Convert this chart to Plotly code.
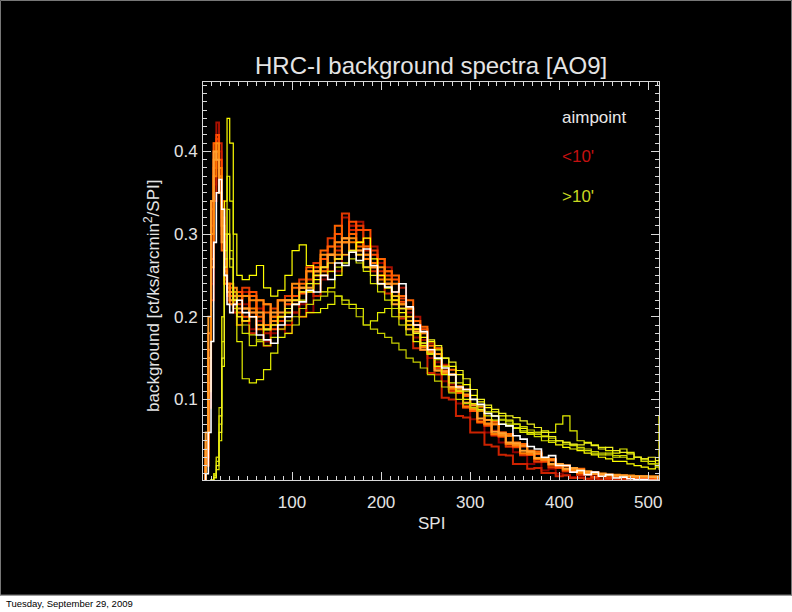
import plotly.graph_objects as go

# ---------------- data ----------------
spi = [0, 3, 6, 9, 12, 15, 18, 21, 24, 27, 30, 34, 38,
       44, 52, 60, 68, 76, 84, 92, 100, 108, 116,
       124, 132, 140, 148, 156, 164, 172, 180, 188, 196,
       204, 212, 220, 228, 236, 244, 252, 260, 268, 276,
       284, 292, 300, 308, 316, 324, 332, 340, 348, 356,
       364, 372, 380, 388, 396, 404, 412, 420, 428, 436,
       444, 452, 460, 468, 476, 484, 492, 500, 508, 512]

aimpoint = [0, 0.01, 0.06, 0.17, 0.29, 0.35, 0.366, 0.33, 0.25, 0.215, 0.205, 0.215, 0.22,
            0.205, 0.2, 0.178, 0.172, 0.168, 0.19, 0.2, 0.215, 0.218, 0.232,
            0.23, 0.25, 0.245, 0.265, 0.262, 0.278, 0.268, 0.282, 0.262, 0.24,
            0.236, 0.23, 0.24, 0.212, 0.19, 0.182, 0.16, 0.15, 0.138, 0.13,
            0.115, 0.112, 0.1, 0.094, 0.083, 0.08, 0.07, 0.068, 0.056, 0.052,
            0.043, 0.04, 0.03, 0.032, 0.02, 0.02, 0.012, 0.014, 0.009, 0.012,
            0.007, 0.009, 0.005, 0.006, 0.004, 0.003, 0.003, 0.002, 0.002, 0.002]

inner_1 = [0, 0.02, 0.10, 0.24, 0.36, 0.42, 0.40, 0.31, 0.25, 0.22, 0.215, 0.21, 0.20,
           0.215, 0.185, 0.195, 0.17, 0.18, 0.195, 0.18, 0.205, 0.215, 0.205,
           0.24, 0.245, 0.265, 0.255, 0.29, 0.31, 0.28, 0.295, 0.26, 0.265,
           0.24, 0.23, 0.2, 0.205, 0.175, 0.172, 0.15, 0.145, 0.122, 0.118,
           0.095, 0.092, 0.076, 0.074, 0.06, 0.062, 0.048, 0.046, 0.036, 0.032,
           0.022, 0.024, 0.014, 0.016, 0.01, 0.009, 0.006, 0.006, 0.004, 0.005,
           0.003, 0.004, 0.002, 0.003, 0.002, 0.002, 0.002, 0.002, 0.002, 0.002]
inner_2 = [0, 0.03, 0.14, 0.30, 0.41, 0.435, 0.37, 0.29, 0.24, 0.23, 0.225, 0.23, 0.22,
           0.23, 0.205, 0.21, 0.18, 0.195, 0.185, 0.215, 0.205, 0.235, 0.23,
           0.26, 0.255, 0.285, 0.29, 0.32, 0.31, 0.315, 0.28, 0.285, 0.25,
           0.26, 0.23, 0.235, 0.2, 0.2, 0.165, 0.168, 0.14, 0.142, 0.112,
           0.115, 0.092, 0.094, 0.072, 0.075, 0.056, 0.06, 0.043, 0.046, 0.033,
           0.036, 0.025, 0.027, 0.018, 0.02, 0.013, 0.014, 0.009, 0.01, 0.007,
           0.008, 0.005, 0.006, 0.004, 0.005, 0.003, 0.004, 0.003, 0.003, 0.003]
inner_3 = [0, 0.02, 0.09, 0.22, 0.34, 0.40, 0.41, 0.34, 0.27, 0.235, 0.22, 0.205, 0.19,
           0.195, 0.18, 0.19, 0.165, 0.19, 0.2, 0.19, 0.22, 0.2, 0.23,
           0.225, 0.25, 0.255, 0.28, 0.275, 0.305, 0.29, 0.285, 0.255, 0.255,
           0.228, 0.225, 0.198, 0.195, 0.162, 0.16, 0.132, 0.13, 0.102, 0.1,
           0.08, 0.078, 0.06, 0.06, 0.045, 0.043, 0.033, 0.032, 0.022, 0.022,
           0.016, 0.017, 0.011, 0.011, 0.007, 0.008, 0.005, 0.005, 0.004, 0.004,
           0.003, 0.003, 0.003, 0.002, 0.002, 0.002, 0.002, 0.002, 0.002, 0.002]
inner_4 = [0, 0.04, 0.16, 0.31, 0.40, 0.415, 0.38, 0.30, 0.245, 0.225, 0.235, 0.225, 0.215,
           0.235, 0.2, 0.22, 0.19, 0.21, 0.195, 0.225, 0.225, 0.245, 0.245,
           0.265, 0.26, 0.295, 0.285, 0.325, 0.3, 0.31, 0.275, 0.28, 0.25,
           0.255, 0.225, 0.222, 0.195, 0.19, 0.165, 0.16, 0.138, 0.132, 0.11,
           0.108, 0.09, 0.086, 0.072, 0.07, 0.057, 0.055, 0.043, 0.042, 0.033,
           0.033, 0.025, 0.025, 0.018, 0.017, 0.013, 0.013, 0.009, 0.009, 0.006,
           0.007, 0.005, 0.006, 0.004, 0.005, 0.003, 0.004, 0.003, 0.003, 0.003]
inner_5 = [0, 0.03, 0.12, 0.27, 0.38, 0.42, 0.39, 0.32, 0.26, 0.24, 0.225, 0.215, 0.23,
           0.2, 0.23, 0.19, 0.215, 0.185, 0.22, 0.215, 0.225, 0.228, 0.255,
           0.255, 0.27, 0.275, 0.3, 0.295, 0.315, 0.305, 0.305, 0.275, 0.27,
           0.25, 0.245, 0.218, 0.21, 0.19, 0.185, 0.16, 0.155, 0.135, 0.13,
           0.108, 0.104, 0.086, 0.086, 0.068, 0.07, 0.055, 0.056, 0.043, 0.043,
           0.033, 0.034, 0.025, 0.026, 0.018, 0.019, 0.013, 0.014, 0.01, 0.01,
           0.007, 0.008, 0.006, 0.006, 0.005, 0.005, 0.005, 0.004, 0.004, 0.004]
inner_6 = [0, 0.05, 0.18, 0.33, 0.41, 0.40, 0.35, 0.28, 0.24, 0.235, 0.24, 0.23, 0.225,
           0.21, 0.225, 0.2, 0.205, 0.2, 0.22, 0.22, 0.235, 0.24, 0.26,
           0.26, 0.28, 0.285, 0.31, 0.295, 0.3, 0.285, 0.285, 0.265, 0.27,
           0.255, 0.25, 0.225, 0.22, 0.195, 0.188, 0.165, 0.162, 0.14, 0.136,
           0.116, 0.112, 0.093, 0.091, 0.075, 0.073, 0.06, 0.058, 0.048, 0.046,
           0.038, 0.037, 0.029, 0.028, 0.021, 0.02, 0.016, 0.016, 0.012, 0.012,
           0.01, 0.009, 0.008, 0.008, 0.007, 0.007, 0.006, 0.006, 0.006, 0.006]
inner_7 = [0, 0.02, 0.11, 0.26, 0.37, 0.40, 0.38, 0.33, 0.27, 0.23, 0.215, 0.22, 0.205,
           0.195, 0.21, 0.185, 0.19, 0.2, 0.2, 0.205, 0.215, 0.23, 0.23,
           0.25, 0.255, 0.275, 0.275, 0.29, 0.29, 0.29, 0.27, 0.265, 0.245,
           0.245, 0.22, 0.215, 0.19, 0.185, 0.163, 0.157, 0.135, 0.132, 0.113,
           0.11, 0.091, 0.089, 0.073, 0.07, 0.058, 0.056, 0.046, 0.044, 0.035,
           0.034, 0.028, 0.027, 0.021, 0.02, 0.015, 0.015, 0.011, 0.011, 0.01,
           0.009, 0.008, 0.008, 0.007, 0.007, 0.006, 0.006, 0.006, 0.005, 0.005]
inner_8 = [0, 0.04, 0.15, 0.30, 0.39, 0.41, 0.37, 0.31, 0.255, 0.24, 0.23, 0.235, 0.225,
           0.225, 0.22, 0.22, 0.215, 0.195, 0.22, 0.22, 0.24, 0.235, 0.255,
           0.255, 0.275, 0.275, 0.29, 0.29, 0.295, 0.275, 0.275, 0.26, 0.26,
           0.24, 0.24, 0.215, 0.21, 0.185, 0.18, 0.157, 0.155, 0.133, 0.13,
           0.11, 0.106, 0.088, 0.087, 0.071, 0.07, 0.057, 0.056, 0.045, 0.044,
           0.036, 0.035, 0.027, 0.027, 0.021, 0.02, 0.015, 0.015, 0.011, 0.011,
           0.01, 0.009, 0.009, 0.008, 0.008, 0.007, 0.007, 0.007, 0.007, 0.007]
inner_9 = [0, 0.06, 0.2, 0.34, 0.40, 0.39, 0.35, 0.29, 0.25, 0.23, 0.22, 0.225, 0.21,
           0.21, 0.205, 0.205, 0.185, 0.205, 0.205, 0.22, 0.22, 0.235, 0.235,
           0.255, 0.26, 0.275, 0.27, 0.295, 0.28, 0.28, 0.26, 0.26, 0.24,
           0.24, 0.215, 0.21, 0.185, 0.182, 0.16, 0.155, 0.135, 0.134, 0.115,
           0.113, 0.096, 0.093, 0.077, 0.075, 0.061, 0.059, 0.048, 0.047, 0.038,
           0.037, 0.029, 0.029, 0.022, 0.022, 0.016, 0.017, 0.013, 0.013, 0.01,
           0.01, 0.009, 0.008, 0.008, 0.007, 0.007, 0.007, 0.006, 0.006, 0.006]

outer_1 = [0, 0, 0, 0.003, 0.01, 0.03, 0.08, 0.2, 0.34, 0.44, 0.41, 0.3, 0.25,
           0.245, 0.25, 0.262, 0.235, 0.225, 0.232, 0.25, 0.28, 0.287, 0.262,
           0.245, 0.23, 0.235, 0.25, 0.265, 0.28, 0.29, 0.295, 0.27, 0.25,
           0.235, 0.22, 0.205, 0.2, 0.185, 0.175, 0.17, 0.16, 0.15, 0.14,
           0.13, 0.118, 0.105, 0.097, 0.09, 0.085, 0.08, 0.075, 0.07, 0.065,
           0.06, 0.058, 0.055, 0.05, 0.045, 0.042, 0.04, 0.038, 0.035, 0.033,
           0.03, 0.028, 0.025, 0.025, 0.022, 0.02, 0.018, 0.016, 0.02, 0.081]
outer_2 = [0, 0, 0, 0, 0.005, 0.015, 0.05, 0.14, 0.28, 0.37, 0.34, 0.22, 0.17,
           0.125, 0.12, 0.124, 0.136, 0.156, 0.175, 0.18, 0.19, 0.2, 0.205,
           0.205, 0.21, 0.215, 0.225, 0.22, 0.215, 0.21, 0.19, 0.195, 0.205,
           0.21, 0.2, 0.19, 0.178, 0.17, 0.165, 0.155, 0.14, 0.13, 0.12,
           0.11, 0.1, 0.095, 0.088, 0.08, 0.075, 0.07, 0.068, 0.065, 0.06,
           0.058, 0.06, 0.062, 0.06, 0.07, 0.08, 0.062, 0.05, 0.048, 0.045,
           0.042, 0.038, 0.035, 0.04, 0.036, 0.03, 0.028, 0.025, 0.022, 0.022]
outer_3 = [0, 0, 0, 0.002, 0.008, 0.025, 0.07, 0.17, 0.27, 0.3, 0.26, 0.21, 0.19,
           0.18, 0.165, 0.172, 0.184, 0.19, 0.2, 0.205, 0.215, 0.22, 0.23,
           0.24, 0.25, 0.255, 0.26, 0.265, 0.27, 0.265, 0.255, 0.24, 0.23,
           0.22, 0.21, 0.2, 0.19, 0.18, 0.168, 0.155, 0.148, 0.14, 0.13,
           0.12, 0.11, 0.1, 0.092, 0.085, 0.08, 0.075, 0.07, 0.066, 0.062,
           0.058, 0.055, 0.05, 0.048, 0.05, 0.046, 0.044, 0.04, 0.038, 0.035,
           0.033, 0.035, 0.03, 0.032, 0.028, 0.03, 0.025, 0.022, 0.018, 0.018]
outer_4 = [0, 0, 0, 0.003, 0.01, 0.03, 0.09, 0.2, 0.3, 0.33, 0.28, 0.23, 0.2,
           0.19, 0.178, 0.17, 0.165, 0.175, 0.185, 0.195, 0.2, 0.21, 0.215,
           0.22, 0.225, 0.23, 0.225, 0.215, 0.21, 0.2, 0.19, 0.185, 0.18,
           0.175, 0.168, 0.16, 0.15, 0.145, 0.138, 0.13, 0.122, 0.115, 0.108,
           0.1, 0.095, 0.09, 0.086, 0.083, 0.08, 0.076, 0.073, 0.07, 0.067,
           0.063, 0.06, 0.056, 0.053, 0.05, 0.048, 0.045, 0.042, 0.04, 0.037,
           0.035, 0.033, 0.032, 0.03, 0.028, 0.03, 0.025, 0.022, 0.02, 0.015]
outer_5 = [0, 0, 0, 0.002, 0.006, 0.02, 0.06, 0.15, 0.26, 0.3, 0.27, 0.22, 0.2,
           0.195, 0.2, 0.19, 0.185, 0.19, 0.2, 0.21, 0.22, 0.23, 0.24,
           0.25, 0.26, 0.265, 0.27, 0.275, 0.28, 0.275, 0.26, 0.25, 0.24,
           0.235, 0.225, 0.21, 0.195, 0.18, 0.168, 0.172, 0.165, 0.15, 0.145,
           0.135, 0.125, 0.112, 0.1, 0.093, 0.088, 0.083, 0.08, 0.078, 0.074,
           0.07, 0.066, 0.06, 0.055, 0.05, 0.048, 0.046, 0.045, 0.047, 0.044,
           0.04, 0.042, 0.038, 0.036, 0.034, 0.03, 0.028, 0.03, 0.026, 0.026]

inner_curves = [inner_1, inner_2, inner_3, inner_4, inner_5, inner_6, inner_7, inner_8, inner_9]
inner_colors = ["#8B0000", "#A81000", "#CC2200", "#E03800", "#FF4C00",
                "#FF6400", "#FF7A00", "#FF8C10", "#FFA030"]
outer_curves = [outer_1, outer_2, outer_3, outer_4, outer_5]
outer_colors = ["#FFFF00", "#E6F000", "#D4E000", "#C8D000", "#F0F020"]

title_text = "HRC-I background spectra [AO9]"
x_label = "SPI"
y_label = "background [ct/ks/arcmin<sup>2</sup>/SPI]"
legend_labels = ["aimpoint", "&lt;10'", "&gt;10'"]
legend_colors = ["#E8E8E8", "#C41010", "#C8D820"]
date_text = "Tuesday, September 29, 2009"
x_ticks = [100, 200, 300, 400, 500]
y_ticks = [0.1, 0.2, 0.3, 0.4]

# ---------------- figure ----------------
FONT = "Liberation Sans"
TXT = "#E4E4E4"
fig = go.Figure()

for ys, c in zip(inner_curves, inner_colors):
    fig.add_trace(go.Scatter(x=spi, y=ys, mode="lines", line=dict(color=c, width=2, shape="hv"),
                             showlegend=False, hoverinfo="skip"))
for ys, c in zip(outer_curves, outer_colors):
    fig.add_trace(go.Scatter(x=spi, y=ys, mode="lines", line=dict(color=c, width=1.2, shape="hv"),
                             showlegend=False, hoverinfo="skip"))
fig.add_trace(go.Scatter(x=spi, y=aimpoint, mode="lines", line=dict(color="#FFFFFF", width=1.6, shape="hv"),
                         showlegend=False, hoverinfo="skip"))

L, R, T, B = 203, 133, 82, 132
W, H = 792, 612
pw, ph = W - L - R, H - T - B

def px(x):
    return (x - L) / pw

def py(y):
    return (H - B - y) / ph

axis_common = dict(showgrid=False, zeroline=False, showline=True, linecolor="#D8D8D8", linewidth=1,
                   ticks="inside", tickcolor="#D8D8D8", ticklen=8, tickwidth=1, mirror="ticks",
                   tickfont=dict(family=FONT, size=17, color=TXT))

fig.update_xaxes(range=[0, 512], tickvals=x_ticks, ticktext=[str(v) for v in x_ticks],
                 minor=dict(dtick=10, ticks="inside", ticklen=4, tickcolor="#D8D8D8"),
                 ticklabelstandoff=7, **axis_common)
fig.update_yaxes(range=[0.0025, 0.484], tickvals=y_ticks, ticktext=["0.1", "0.2", "0.3", "0.4"],
                 minor=dict(dtick=0.01, tick0=0, ticks="inside", ticklen=4, tickcolor="#D8D8D8"),
                 ticklabelstandoff=1, **axis_common)

annotations = [
    dict(text=title_text, x=0.5, y=py(65), xref="paper", yref="paper", showarrow=False,
         xanchor="center", yanchor="middle", font=dict(family=FONT, size=24, color=TXT)),
    dict(text=x_label, x=px(431), y=py(523), xref="paper", yref="paper", showarrow=False,
         xanchor="center", yanchor="middle", font=dict(family=FONT, size=17, color=TXT)),
    dict(text=y_label, x=px(152), y=py(296), xref="paper", yref="paper", showarrow=False,
         textangle=-90, xanchor="center", yanchor="middle", font=dict(family=FONT, size=17, color=TXT)),
    dict(text=date_text, x=px(4), y=py(603), xref="paper", yref="paper", showarrow=False,
         xanchor="left", yanchor="middle", font=dict(family=FONT, size=9.5, color="#000000")),
]
for lab, col, yy in zip(legend_labels, legend_colors, [117, 156, 196]):
    annotations.append(dict(text=lab, x=px(560), y=py(yy), xref="paper", yref="paper", showarrow=False,
                            xanchor="left", yanchor="middle", font=dict(family=FONT, size=17, color=col)))

shapes = [
    dict(type="rect", xref="paper", yref="paper", x0=px(0.5), x1=px(W - 0.5), y0=py(595), y1=py(0.5),
         fillcolor="rgba(0,0,0,0)", line=dict(color="#777777", width=1), layer="above"),
    dict(type="rect", xref="paper", yref="paper", x0=px(-2), x1=px(W + 2), y0=py(H + 2), y1=py(595.5),
         fillcolor="#FFFFFF", line=dict(width=0), layer="above"),
]

fig.update_layout(width=W, height=H, margin=dict(l=L, r=R, t=T, b=B),
                  paper_bgcolor="#000000", plot_bgcolor="#000000",
                  annotations=annotations, shapes=shapes, showlegend=False,
                  font=dict(family=FONT, color=TXT))

fig.write_html("out.html", config={"displayModeBar": False},
               post_script="document.body.style.margin='0';document.body.style.overflow='hidden';")
